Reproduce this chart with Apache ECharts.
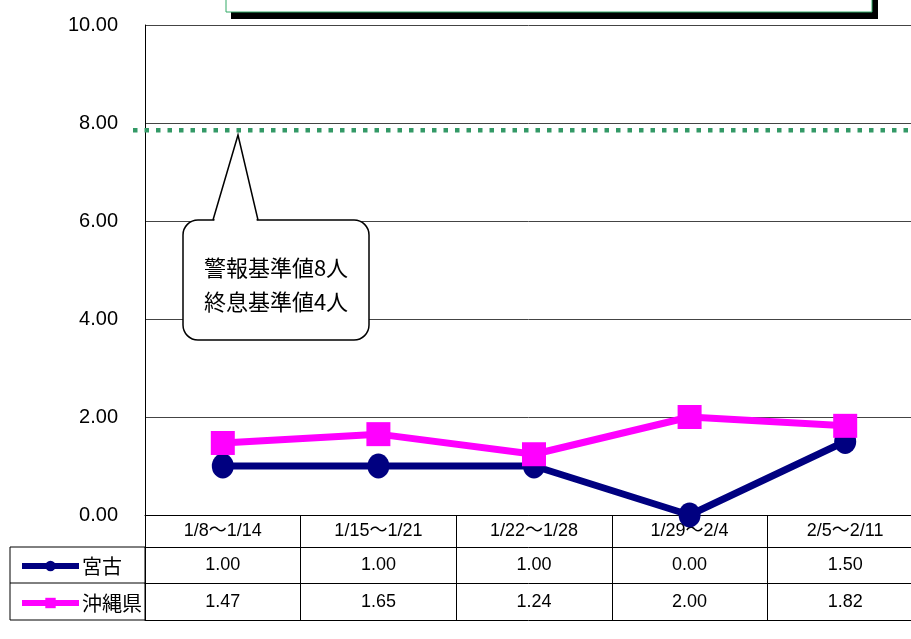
<!DOCTYPE html>
<html>
<head>
<meta charset="utf-8">
<script src="https://cdn.jsdelivr.net/npm/echarts@6/dist/echarts.min.js"></script>
<style>
  html, body { margin: 0; padding: 0; background: #fff; }
  #main { width: 911px; height: 639px; }
</style>
</head>
<body>
<div id="main"></div>
<script>
// weekly periods
const categories = ['1/8～1/14', '1/15～1/21', '1/22～1/28', '1/29～2/4', '2/5～2/11'];
// reports per sentinel
const miyako = [1.00, 1.00, 1.00, 0.00, 1.50];
const okinawa = [1.47, 1.65, 1.24, 2.00, 1.82];
// dotted warning line
const alertLevel = 7.85;
const yMin = 0, yMax = 10, yStep = 2;

const latin = '"Liberation Sans", Arial, "Noto Sans CJK JP", sans-serif';
const jp = '"Noto Sans CJK JP", sans-serif';

let myChart = echarts.init(document.getElementById('main'));

// table row axes under the plot: each one is a category axis whose labels are the values
function rowAxis(values, offset, tickLen, margin) {
    return {
        type: 'category',
        position: 'bottom',
        offset: offset,
        data: values,
        axisLine: { show: true, lineStyle: { color: '#000', width: 1 } },
        axisTick: { show: tickLen > 0, length: tickLen, interval: 0, lineStyle: { color: '#000' } },
        axisLabel: { show: true, interval: 0, margin: margin, fontSize: 18, color: '#000', fontFamily: latin },
        splitLine: { show: false }
    };
}

let option = {
    animation: false,
    backgroundColor: '#fff',
    grid: { left: 145, top: 25, right: -12, bottom: 124, outerBoundsMode: 'none' },
    legend: {
        orient: 'vertical',
        left: 14,
        top: 551,
        itemWidth: 57,
        itemHeight: 13,
        itemGap: 17,
        lineStyle: { width: 6 },
        textStyle: { fontSize: 20, lineHeight: 20, color: '#000', fontFamily: jp, padding: [0, 0, 0, -2] },
        data: ['宮古', '沖縄県']
    },
    xAxis: [
        {
            type: 'category',
            position: 'bottom',
            data: categories,
            axisLine: { lineStyle: { color: '#000', width: 1 } },
            axisTick: { show: true, length: 32, interval: 0, lineStyle: { color: '#000' } },
            axisLabel: { interval: 0, margin: 7, fontSize: 18, color: '#000', fontFamily: latin },
            splitLine: { show: false }
        },
        rowAxis(miyako.map(v => v.toFixed(2)), 32, 36, 9),
        rowAxis(okinawa.map(v => v.toFixed(2)), 68, 37, 10),
        rowAxis(categories.map(() => ''), 105, 0, 0)
    ],
    yAxis: {
        type: 'value',
        min: yMin,
        max: yMax,
        interval: yStep,
        axisLine: { show: true, lineStyle: { color: '#000', width: 1 } },
        axisTick: { show: false },
        axisLabel: {
            margin: 27,
            fontSize: 20,
            color: '#000',
            fontFamily: latin,
            formatter: v => v.toFixed(2)
        },
        splitLine: { show: true, lineStyle: { color: '#444', width: 1 } }
    },
    series: [
        {
            name: '宮古',
            type: 'line',
            data: miyako,
            symbol: 'circle',
            symbolSize: [22, 25],
            lineStyle: { color: '#000080', width: 7 },
            itemStyle: { color: '#000080' },
            z: 3
        },
        {
            name: '沖縄県',
            type: 'line',
            data: okinawa,
            symbol: 'rect',
            symbolSize: 24,
            lineStyle: { color: '#ff00ff', width: 7 },
            itemStyle: { color: '#ff00ff' },
            z: 4
        }
    ],
    graphic: {
        elements: [
            // title box, mostly above the picture
            { id: 'titleShadow', type: 'rect', shape: { x: 231, y: -40, width: 647, height: 59 }, style: { fill: '#000' }, z: 10 },
            { id: 'titleBox', type: 'rect', shape: { x: 226, y: -40, width: 646, height: 52 }, style: { fill: '#fff', stroke: '#33aa66', lineWidth: 1 }, z: 11 },
            { id: 'titleText', type: 'text', x: 550, y: -2, z: 12,
              style: { text: '定点当たり患者報告数（平均値）の推移', fill: '#000', font: 'bold 30px "Noto Sans CJK JP"', textAlign: 'center', textVerticalAlign: 'bottom' } },
            // left column of the table
            { id: 'legendCell', type: 'rect', shape: { x: 10, y: 547, width: 135, height: 73 }, style: { fill: 'none', stroke: '#000', lineWidth: 1 }, z: 5 },
            { id: 'legendRow', type: 'line', shape: { x1: 10, y1: 583, x2: 145, y2: 583 }, style: { stroke: '#000', lineWidth: 1 }, z: 5 },
            // callout: rounded box + pointer
            { id: 'calloutBox', type: 'rect', z: 20,
              shape: { x: 183, y: 220, width: 186, height: 120, r: 15 },
              style: { fill: '#fff', stroke: '#000', lineWidth: 1.5 } },
            { id: 'calloutFill', type: 'polygon', z: 21,
              shape: { points: [[214, 222], [238, 136], [257, 222]] },
              style: { fill: '#fff' } },
            { id: 'calloutEdge', type: 'polyline', z: 22,
              shape: { points: [[213, 220], [238, 135], [258, 220]] },
              style: { fill: 'none', stroke: '#000', lineWidth: 1.5 } },
            { id: 'callout1', type: 'text', x: 276, y: 268, z: 23,
              style: { text: '警報基準値8人', fill: '#000', font: '22px "Noto Sans CJK JP"', textAlign: 'center', textVerticalAlign: 'middle' } },
            { id: 'callout2', type: 'text', x: 276, y: 302, z: 23,
              style: { text: '終息基準値4人', fill: '#000', font: '22px "Noto Sans CJK JP"', textAlign: 'center', textVerticalAlign: 'middle' } }
        ]
    }
};

myChart.setOption(option);

// warning line: y from the value axis, reaching a little past the axis on the left
let yAlert = myChart.convertToPixel({ yAxisIndex: 0 }, alertLevel);
myChart.setOption({
    graphic: {
        elements: [
            { id: 'alertLine', type: 'line', z: 15,
              shape: { x1: 133, y1: yAlert, x2: 911, y2: yAlert },
              style: { stroke: '#339966', lineWidth: 4.5, lineDash: [4.5, 7] } }
        ]
    }
});
</script>
</body>
</html>
